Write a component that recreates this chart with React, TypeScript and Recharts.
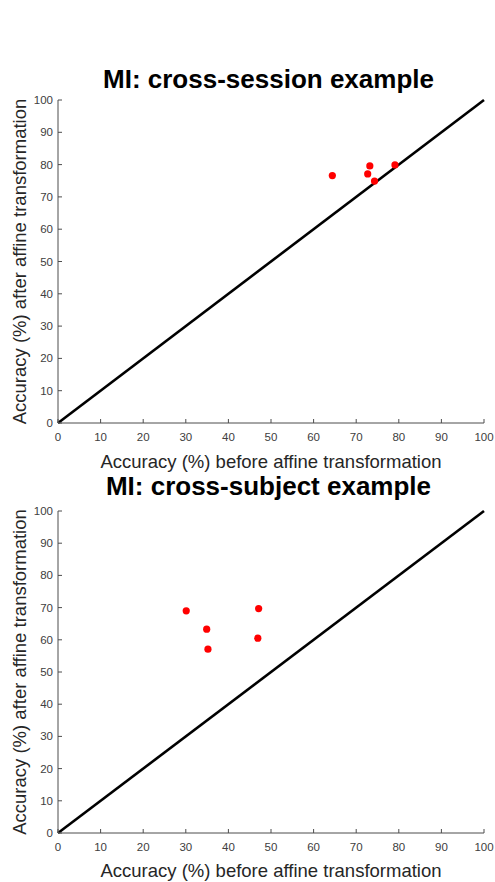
import React from 'react'
import {
  ScatterChart, Scatter, XAxis, YAxis, ReferenceLine, Label
} from 'recharts'

// 上: cross-session
const sessionBefore = [64.4, 73.2, 72.7, 74.3, 79.1]
const sessionAfter  = [76.6, 79.6, 77.1, 74.9, 79.9]
// 下: cross-subject
const subjectBefore = [30.1, 34.9, 35.2, 47.1, 46.9]
const subjectAfter  = [69.0, 63.3, 57.1, 69.7, 60.5]

const ticks = [0, 10, 20, 30, 40, 50, 60, 70, 80, 90, 100]
const diagonal = [{ x: 0, y: 0 }, { x: 100, y: 100 }]

const X_LABEL = 'Accuracy (%) before affine transformation'
const Y_LABEL = 'Accuracy (%) after affine transformation'

const TEXT = '#262626'
const TICK = '#404040'
const AXIS = '#4d4d4d'
const FONT = '"Liberation Sans", Arial, sans-serif'

const dot = (p: any) => <circle cx={p.cx} cy={p.cy} r={3.6} fill="#ff0000" />

function Panel({ before, after, title, height, top, xHeight, titleTop, xLabelOffset, marginTop }: {
  before: number[]; after: number[]; title: string; height: number; top: number
  xHeight: number; titleTop: number; xLabelOffset: number; marginTop: number
}) {
  const data = before.map((b, i) => ({ x: b, y: after[i] }))
  return (
    <div style={{ position: 'relative', width: 495, height, marginTop }}>
      <div style={{
        position: 'absolute', left: 21, width: 495, top: titleTop, textAlign: 'center',
        fontFamily: FONT, fontWeight: 'bold', fontSize: 26, color: '#000', lineHeight: '26px',
        zIndex: 1
      }}>{title}</div>
      <ScatterChart width={495} height={height} margin={{ top, right: 11, left: 0, bottom: 0 }}
        style={{ fontFamily: FONT }}>
        <XAxis type="number" dataKey="x" domain={[0, 100]} ticks={ticks} allowDataOverflow
          height={xHeight} stroke={AXIS} tickSize={-4} tickMargin={14}
          tick={{ fill: TICK, fontSize: 11.5 }}>
          <Label value={X_LABEL} position="insideBottom" offset={xLabelOffset}
            style={{ fill: TEXT, fontSize: 18.5 }} />
        </XAxis>
        <YAxis type="number" dataKey="y" domain={[0, 100]} ticks={ticks} allowDataOverflow
          width={58} stroke={AXIS} tickSize={-4} tickMargin={9}
          tick={{ fill: TICK, fontSize: 11.5 }}>
          <Label value={Y_LABEL} angle={-90} position="insideLeft" offset={19}
            style={{ fill: TEXT, fontSize: 18.5, textAnchor: 'middle' }} />
        </YAxis>
        <ReferenceLine segment={diagonal} stroke="#000" strokeWidth={2.6} ifOverflow="visible" />
        <Scatter data={data} shape={dot} isAnimationActive={false} />
      </ScatterChart>
    </div>
  )
}

export default function App() {
  return (
    <div style={{ position: 'absolute', left: 0, top: 0, width: 495, height: 882, background: '#fff' }}>
      <Panel before={sessionBefore} after={sessionAfter} title="MI: cross-session example"
        height={477} top={100} xHeight={54} titleTop={66} xLabelOffset={9} marginTop={0} />
      <Panel before={subjectBefore} after={subjectAfter} title="MI: cross-subject example"
        height={412} top={41} xHeight={49} titleTop={3} xLabelOffset={5} marginTop={-7} />
    </div>
  )
}
